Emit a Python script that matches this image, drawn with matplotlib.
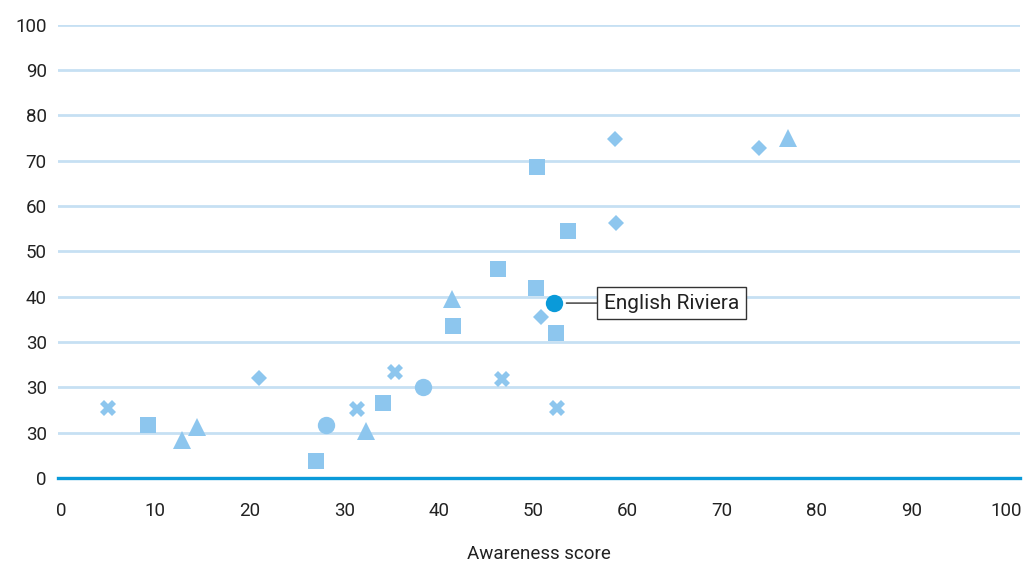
import matplotlib.pyplot as plt

plt.rcParams['font.family'] = ['Roboto', 'DejaVu Sans']

# data (awareness score vs. second score)
cross_x = [5.0, 31.3, 35.4, 46.7, 52.5]
cross_y = [15.5, 15.2, 23.4, 21.9, 15.5]
square_x = [9.2, 27.0, 34.1, 41.5, 46.3, 50.3, 50.4, 53.7, 52.4]
square_y = [11.7, 3.8, 16.6, 33.6, 46.1, 41.9, 68.7, 54.5, 32.0]
tri_x = [12.8, 14.4, 32.3, 41.4, 77.0]
tri_y = [8.4, 11.2, 10.4, 39.5, 75.0]
diam_x = [21.0, 50.8, 58.7, 58.8, 73.9]
diam_y = [22.1, 35.5, 74.8, 56.3, 72.8]
circ_x = [28.1, 38.3]
circ_y = [11.7, 20.1]
hl_x, hl_y = 52.2, 38.6
hl_label = 'English Riviera'

yticks = [0, 10, 20, 30, 40, 50, 60, 70, 80, 90, 100]
ylabels = ['0', '30', '30', '30', '40', '50', '60', '70', '80', '90', '100']
xticks = [0, 10, 20, 30, 40, 50, 60, 70, 80, 90, 100]

light = '#8dc6ee'
dark = '#0a9ad9'
grid = '#c6e0f3'
txt = '#222222'

fig = plt.figure(figsize=(10.24, 5.65), dpi=100)
ax = fig.add_axes([0.0566, 0.154, 0.9394, 0.802])
ax.set_xlim(-0.3, 101.5)
ax.set_ylim(0, 100)

for yv in yticks[1:]:
    ax.axhline(yv, color=grid, lw=2, zorder=1)
ax.axhline(0, color=dark, lw=2.4, zorder=2, clip_on=False)

kw = dict(color=light, linestyle='none', clip_on=False, zorder=3)
ax.plot(cross_x, cross_y, marker='X', ms=12, mew=0, **kw)
ax.plot(square_x, square_y, marker='s', ms=12, mew=0, **kw)
ax.plot(tri_x, tri_y, marker='^', ms=12.5, mew=0, **kw)
ax.plot(diam_x, diam_y, marker='D', ms=8.5, mew=0, **kw)
ax.plot(circ_x, circ_y, marker='o', ms=12.5, mew=0, **kw)
ax.plot([hl_x], [hl_y], marker='o', ms=12.5, mew=0, color=dark,
        linestyle='none', zorder=4)

ax.annotate(hl_label, xy=(hl_x + 1.3, hl_y), xytext=(hl_x + 5.3, hl_y),
            fontsize=15, color=txt, va='center', ha='left',
            bbox=dict(boxstyle='square,pad=0.32', fc='white', ec='#333333', lw=1),
            arrowprops=dict(arrowstyle='-', color='#333333', lw=1,
                            shrinkA=0, shrinkB=0))

ax.set_yticks(yticks)
ax.set_yticklabels(ylabels)
ax.set_xticks(xticks)
ax.tick_params(axis='both', length=0, labelsize=13.5, colors=txt)
ax.tick_params(axis='y', pad=8)
ax.tick_params(axis='x', pad=17)
for s in ax.spines.values():
    s.set_visible(False)

ax.set_xlabel('Awareness score', fontsize=13.5, color=txt, labelpad=18)

fig.savefig('out.png', dpi=100)
